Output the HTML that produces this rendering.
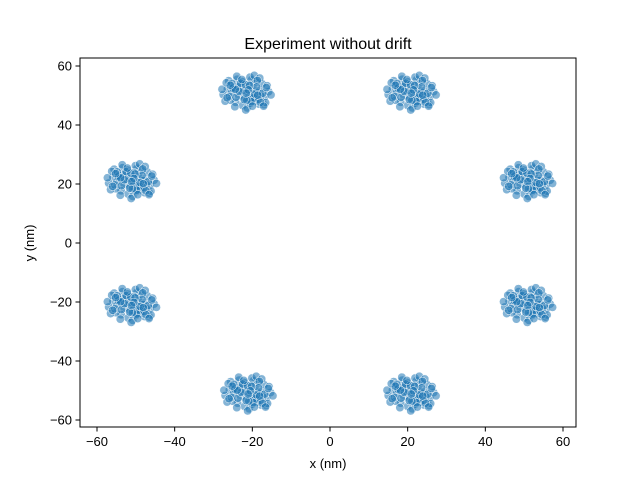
<!DOCTYPE html>
<html><head><meta charset="utf-8"><style>
body{margin:0;background:#fff;font-family:"Liberation Sans","DejaVu Sans",sans-serif}
</style></head><body>
<svg id="chart" width="640" height="480" xmlns="http://www.w3.org/2000/svg">
<rect width="640" height="480" fill="#fff"/>
<text x="328" y="49" text-anchor="middle" font-size="16">Experiment without drift</text>
<g id="marks"></g>
<rect x="80" y="58" width="496" height="369" fill="none" stroke="#000" stroke-width="1"/>
<g id="axes"></g>
<text x="328" y="468" text-anchor="middle" font-size="13">x (nm)</text>
<text transform="translate(34,243) rotate(-90)" text-anchor="middle" font-size="13">y (nm)</text>
</svg>
<script>
const clusterX = [-21.5, 21, 51, 51, 21, -21, -51, -51];
const clusterY = [51, 51, 21, -21, -51, -51, -21, 21];
const offX = [0,1.7,-2,3.4,-3.7,0.7,2.5,-2.8,4.7,-4.9,1.3,-1,4,-4.1,0.2,3.2,-2.4,5.7,-6,2.2,-1.4,4.5,-4.6,0.9,-0.5,2.9,-3.3,5.3,-5.5,1.6,-1.8,3.7,-3.9,0.6,2.3,-3,6.3,-6.3,2,-0.2,3.4,-3.4,1,-1.1,2.8,-2.5,4.9,-5.2,0.3,1.4,
  0.4,-0.7,1.9,-2.3,3.1,-3.5,4.2,-4.4,1.2,-1.5,2.6,-2.7,0.1,-0.3,3.6,-3.8,5.1,-5,2.1,-1.9,0.8,-0.6,1.5,-1.2,2.9,-2.9,4.4,-4.2,0.5,-0.1];
const offY = [0,1.6,-1.1,0.7,2.2,-2.8,3.6,-3.3,-1.4,1.2,4.3,-4.4,3,-2.6,-5.2,-3.9,4.5,0.3,-0.7,-2.1,2.6,-4.1,4,5.2,-1.9,0.1,1,2.3,-2.9,-0.4,0.6,-1.2,-0.1,2.8,-3,-4.8,-0.8,1.1,5.8,-5.9,4.9,1.8,-3.6,3.7,4.1,5.5,-3.4,3.3,1.5,-1.6,
  -0.9,0.8,-1.8,2.1,-2.3,1.4,-0.2,-1.3,-3.1,3.2,1.9,-1.6,-2.6,2.7,-3.3,3.1,1.7,-1.8,-0.5,0.4,2.4,-2.4,-4.6,4.4,-0.9,1.1,-4.6,2.5,0.9,-0.2];
const yTicks = [-60,-40,-20,0,20,40,60];
const xTicks = [-60,-40,-20,0,20,40,60];
const xs = v => 330 + v*(233/60);
const ys = v => 243 - v*(177/60);
const NS = "http://www.w3.org/2000/svg";
const marks = document.getElementById('marks');
for (let c=0;c<clusterX.length;c++){
  for (let i=0;i<offX.length;i++){
    const p = document.createElementNS(NS,'circle');
    p.setAttribute('cx', xs(clusterX[c]+offX[i]));
    p.setAttribute('cy', ys(clusterY[c]+offY[i]));
    p.setAttribute('r', 4.2);
    p.setAttribute('fill', 'rgba(31,119,180,0.55)');
    p.setAttribute('stroke', '#fff');
    p.setAttribute('stroke-width', '0.5');
    
    
    marks.appendChild(p);
  }
}
const axes = document.getElementById('axes');
xTicks.forEach(t=>{
  const l=document.createElementNS(NS,'line');
  l.setAttribute('x1',xs(t));l.setAttribute('x2',xs(t));l.setAttribute('y1',427);l.setAttribute('y2',431.5);l.setAttribute('stroke','#000');
  
  
  axes.appendChild(l);
  const tx=document.createElementNS(NS,'text');
  tx.setAttribute('x',xs(t));tx.setAttribute('y',446);tx.setAttribute('text-anchor','middle');tx.setAttribute('font-size','13');
  tx.textContent = t<0 ? '\u2212'+(-t) : t;
  
  
  axes.appendChild(tx);
});
yTicks.forEach(t=>{
  const l=document.createElementNS(NS,'line');
  l.setAttribute('x1',75.5);l.setAttribute('x2',80);l.setAttribute('y1',ys(t));l.setAttribute('y2',ys(t));l.setAttribute('stroke','#000');
  
  
  axes.appendChild(l);
  const tx=document.createElementNS(NS,'text');
  tx.setAttribute('x',72);tx.setAttribute('y',ys(t)+4.5);tx.setAttribute('text-anchor','end');tx.setAttribute('font-size','13');
  tx.textContent = t<0 ? '\u2212'+(-t) : t;
  
  
  axes.appendChild(tx);
});
</script>
</body></html>
